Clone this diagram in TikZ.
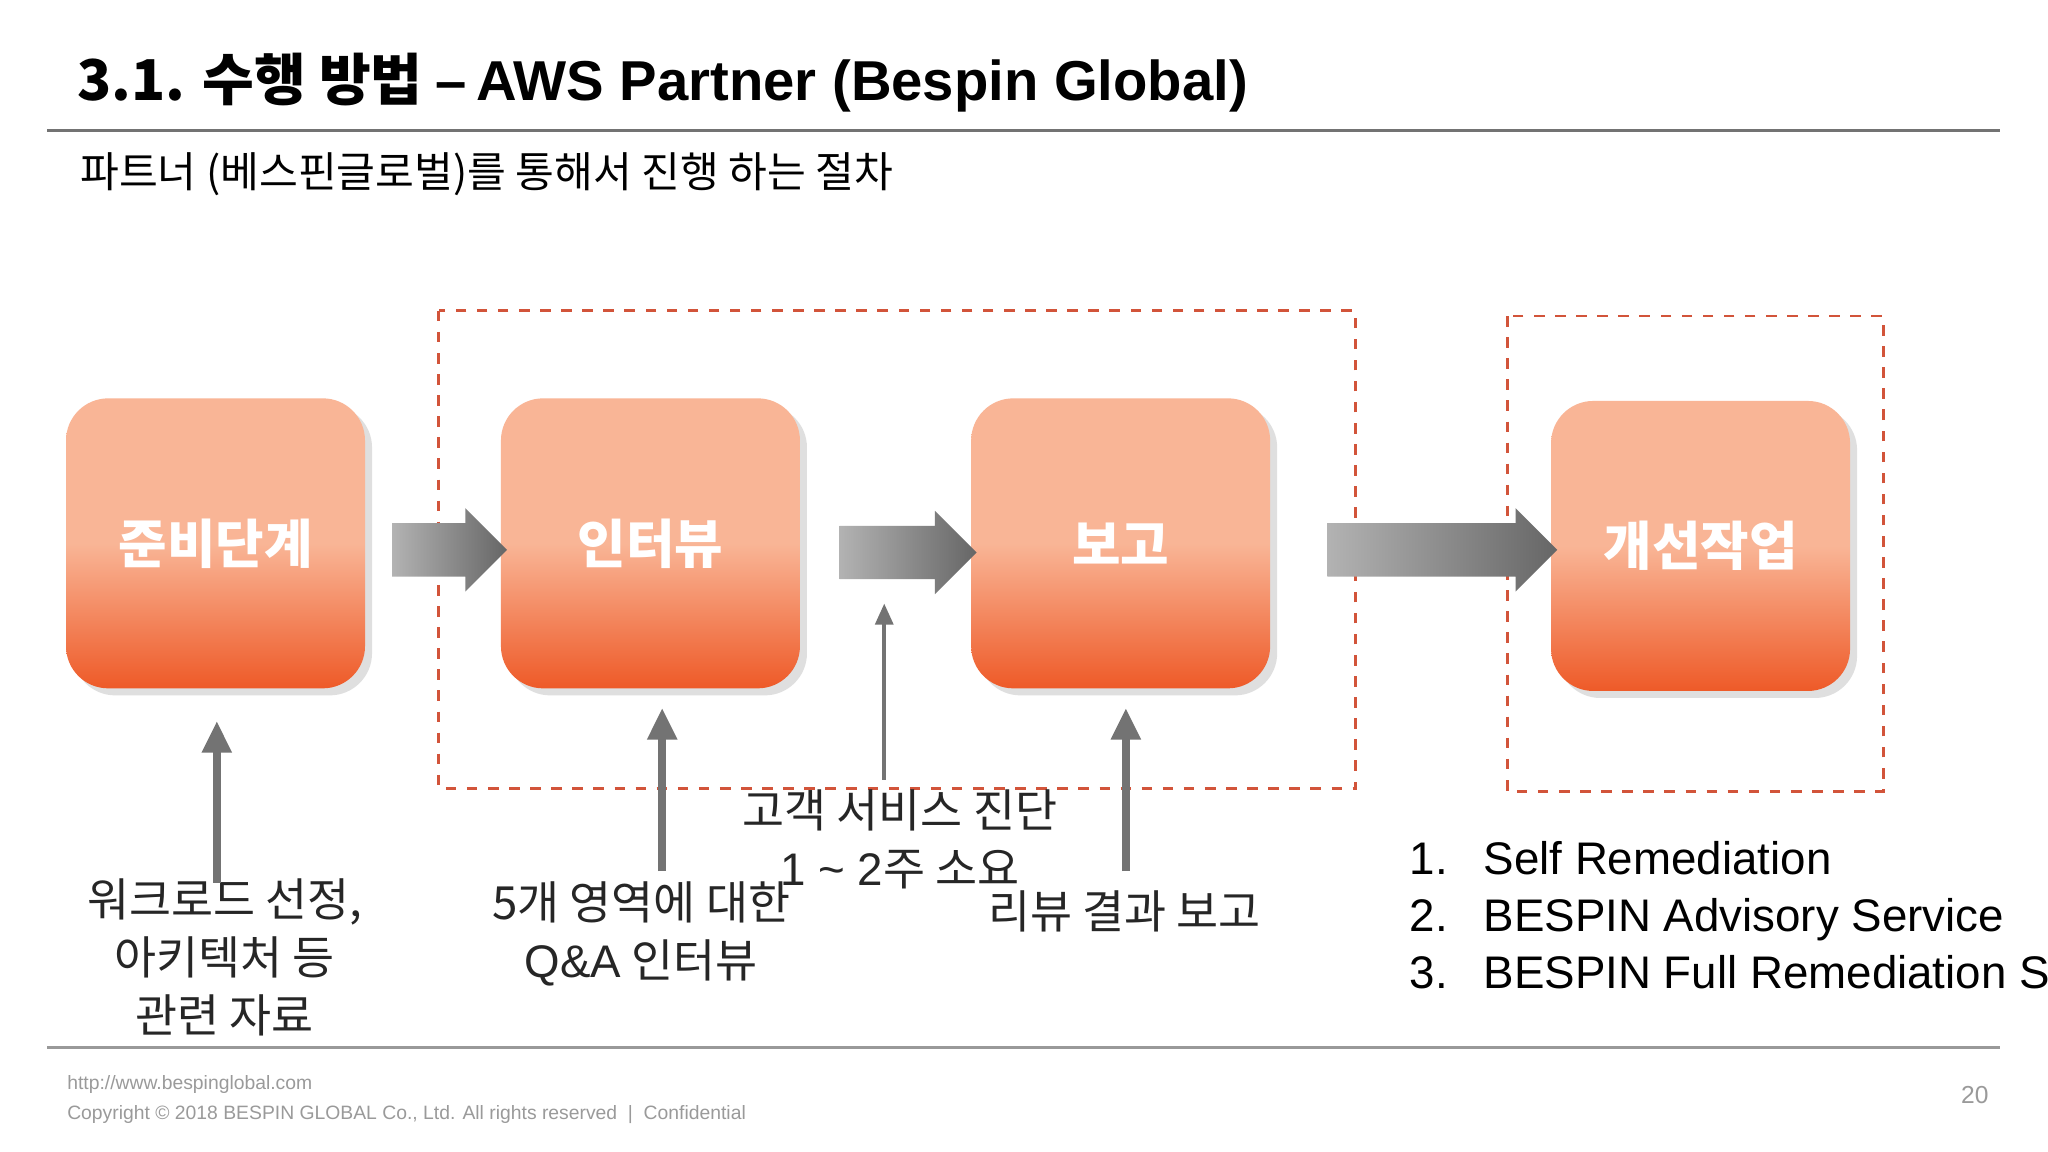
\documentclass[tikz,border=0pt]{standalone}
\usepackage{fontspec}
\setmainfont{Noto Sans CJK KR}
\newfontfamily\latinfont{Liberation Sans}
\usetikzlibrary{shapes.arrows,shadows,arrows.meta,positioning}
\definecolor{boxtop}{HTML}{F9B596}
\definecolor{boxbot}{HTML}{EE5A28}
\definecolor{dashred}{HTML}{D2543A}
\definecolor{footgray}{HTML}{9A9A9A}
\tikzset{
  stage/.style={rounded corners=12pt,minimum width=2.99cm,minimum height=2.9cm,
    top color=boxtop,bottom color=boxbot,middle color=boxtop,shading angle=0,
    drop shadow={opacity=0.25,shadow xshift=2pt,shadow yshift=-2pt},
    text=white,font=\bfseries\fontsize{15}{18}\selectfont,inner sep=0pt},
  flow/.style={single arrow,single arrow head extend=0.15cm,minimum height=#1,
    inner xsep=0pt,inner ysep=0.26cm,left color=black!30,right color=black!60,draw=none},
  group/.style={draw=dashred,dashed,thick},
  lbl/.style={font=\fontsize{13}{16.5}\selectfont,align=center,text=black!85},
  up/.style={line width=2.3pt,black!55,-{Triangle[width=8pt,length=9pt]}}
}
\begin{document}
\begin{tikzpicture}[x=0.01306cm,y=-0.01306cm]
    \useasboundingbox (0,0) rectangle (1568,882);
    \fill[white] (0,0) rectangle (1568,882);
    % header
    \node[anchor=west,font=\bfseries\fontsize{16}{20}\selectfont] (title) at (50,63)
      {3.1. 수행 방법 {\latinfont –\,AWS Partner (Bespin Global)}};
    \draw[black!55,thick] (36,100) -- (1531,100);
    \node[anchor=west,font=\fontsize{12}{15}\selectfont] (sub) at (52,133) {파트너 (베스핀글로벌)를 통해서 진행 하는 절차};
    % dashed groups
    \draw[group] (336,238) rectangle (1038,604);
    \draw[group] (1154,242) rectangle (1442,606);
    % stages
    \node[stage] (prep) at (165,416) {준비단계};
    \node[stage] (intv) at (498,416) {인터뷰};
    \node[stage] (rept) at (858,416) {보고};
    \node[stage] (impr) at (1302,418) {개선작업};
    % flow arrows
    \node[flow=1.15cm] (f1) at (334,421) {};
    \node[flow=1.37cm] (f2) at (685,423) {};
    \node[flow=2.3cm] (f3) at (1094,421) {};
    % inputs
    \node[lbl] (in1) at (172,733) {워크로드 선정,\\아키텍처 등\\관련 자료};
    \node[lbl] (in2) at (491,715) {5개 영역에 대한\\{\latinfont Q\&A} 인터뷰};
    \node[lbl] (in3) at (689,643) {고객 서비스 진단\\{\latinfont 1 \textasciitilde{} 2}주 소요};
    \node[lbl] (in4) at (861,698) {리뷰 결과 보고};
    \coordinate (t1) at (166,552);
    \coordinate (t2) at (507,542);
    \coordinate (t3) at (677,462);
    \coordinate (t4) at (862,542);
    \draw[up] (166,676) -- (t1);
    \draw[up] (507,667) -- (t2);
    \draw[black!55,line width=1.2pt,-{Triangle[width=5pt,length=6pt]}] (677,597) -- (t3);
    \draw[up] (862,667) -- (t4);
    % options
    \node[anchor=west,font=\latinfont\fontsize{13}{16.2}\selectfont,align=left] (opts) at (1070,701)
      {1.\enspace\ Self Remediation\\2.\enspace\ BESPIN Advisory Service\\3.\enspace\ BESPIN Full Remediation Service};
    % footer
    \draw[black!40,thick] (36,802) -- (1531,802);
    \node[anchor=west,text=footgray,font=\latinfont\fontsize{5.5}{8.5}\selectfont,align=left] (foot) at (42,842)
      {http://www.bespinglobal.com\\Copyright © 2018 BESPIN GLOBAL Co., Ltd. All rights reserved \ | \ Confidential};
    \node[text=footgray,font=\latinfont\fontsize{7}{9}\selectfont] (page) at (1512,838) {20};
\end{tikzpicture}
\end{document}
